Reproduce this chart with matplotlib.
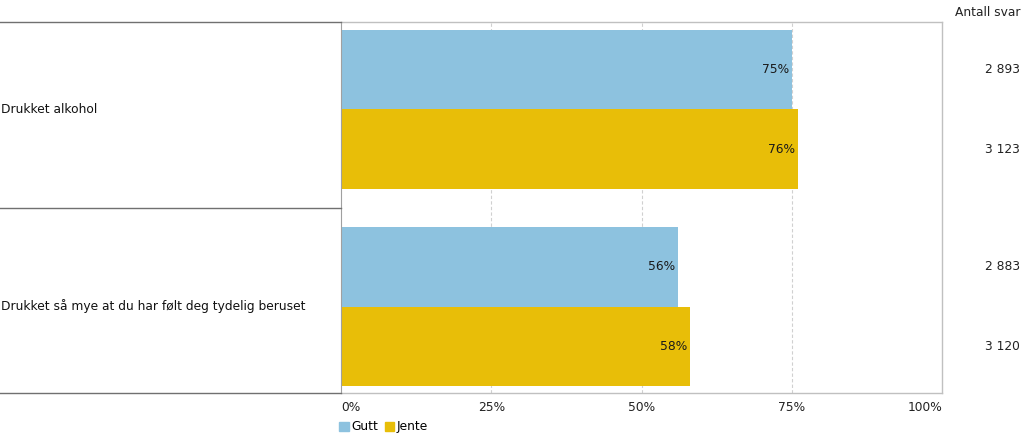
import matplotlib.pyplot as plt

categories = ["Drukket alkohol", "Drukket så mye at du har følt deg tydelig beruset"]
groups = ["Gutt", "Jente"]
gutt = [75, 56]
jente = [76, 58]
antall_gutt = ["2 893", "2 883"]
antall_jente = ["3 123", "3 120"]
ticks = [0, 25, 50, 75, 100]
tick_labels = ["0%", "25%", "50%", "75%", "100%"]

blue = "#8DC2DF"
yellow = "#E8BE08"
W, H = 1023, 438

fig = plt.figure(figsize=(W / 100, H / 100), dpi=100)
plt.rcParams["font.family"] = "DejaVu Sans"
fs = 8.8

# pixel positions of the plot area
x0, x1, y0, y1 = 341, 942, 22, 393
ax = fig.add_axes([x0 / W, 1 - y1 / H, (x1 - x0) / W, (y1 - y0) / H])
left = fig.add_axes([0, 1 - y1 / H, x0 / W, (y1 - y0) / H])

bh = 0.404
ytop, ybot = -0.444, 1.439
pos = list(range(len(categories)))
gpos = [p - bh / 2 for p in pos]
jpos = [p + bh / 2 for p in pos]

ax.barh(gpos, gutt, height=bh, color=blue, zorder=2)
ax.barh(jpos, jente, height=bh, color=yellow, zorder=2)
for y, v in zip(gpos, gutt):
    ax.text(v - 0.4, y, f"{v}%", ha="right", va="center", fontsize=fs, color="#1a1a1a", zorder=3)
for y, v in zip(jpos, jente):
    ax.text(v - 0.4, y, f"{v}%", ha="right", va="center", fontsize=fs, color="#1a1a1a", zorder=3)

ax.set_xlim(0, 100)
ax.set_ylim(ybot, ytop)
ax.set_yticks([])
ax.set_xticks(ticks)
ax.set_xticklabels(tick_labels, fontsize=fs, color="#222222")
labs = ax.get_xticklabels()
labs[0].set_ha("left")
labs[-1].set_ha("right")
ax.tick_params(axis="x", length=0, pad=6)
for t in ticks[1:-1]:
    ax.axvline(t, color="#d0d0d0", linestyle=(0, (3, 2)), linewidth=0.8, zorder=1)
for s in ["top", "right", "bottom"]:
    ax.spines[s].set_color("#c0c0c0")
    ax.spines[s].set_linewidth(1)
ax.spines["left"].set_color("#a0a0a0")

# right column with counts
xr = 100 + 78 / (x1 - x0) * 100
ax.text(1.0 + 78 / (x1 - x0), 1 + 9 / (y1 - y0), "Antall svar", transform=ax.transAxes,
        ha="right", va="center", fontsize=fs, color="#222222")
for y, a in zip(gpos, antall_gutt):
    ax.text(xr, y, a, ha="right", va="center", fontsize=fs, color="#222222", clip_on=False)
for y, a in zip(jpos, antall_jente):
    ax.text(xr, y, a, ha="right", va="center", fontsize=fs, color="#222222", clip_on=False)

# left panel with category labels
left.set_xlim(0, 1)
left.set_ylim(ybot, ytop)
left.axis("off")
for y in [ytop, 0.5, ybot]:
    left.plot([0, 1], [y, y], color="#707070", linewidth=1, clip_on=False)
for p, c in zip(pos, categories):
    left.text(0.002, p, c, ha="left", va="center", fontsize=fs, color="#111111")

# legend
handles = [plt.Rectangle((0, 0), 1, 1, color=blue), plt.Rectangle((0, 0), 1, 1, color=yellow)]
fig.legend(handles, groups, loc="upper left", bbox_to_anchor=(337 / W, 1 - 418 / H),
           ncol=2, frameon=False, fontsize=fs, handlelength=0.8, handleheight=0.8,
           handletextpad=0.2, columnspacing=0.5, borderaxespad=0, borderpad=0.2)

fig.savefig("out.png", dpi=100)
